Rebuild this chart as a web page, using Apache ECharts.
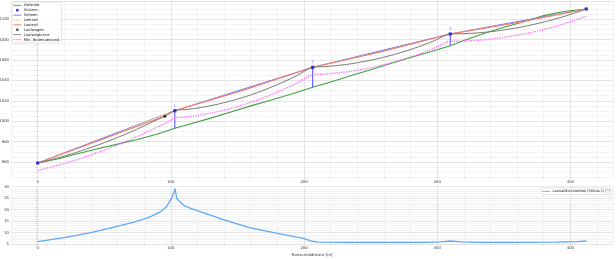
<!DOCTYPE html>
<html><head><meta charset="utf-8">
<script src="https://cdn.jsdelivr.net/npm/echarts@6/dist/echarts.min.js"></script>
<style>html,body{margin:0;padding:0;background:#fff}#c{width:616px;height:259px}</style>
</head><body><div id="c"></div>
<script>
// tick labels
const xTicks = [0, 100, 200, 300, 400];
const profileYTicks = [960, 980, 1000, 1020, 1040, 1060, 1080, 1100];
const angleYTicks = [5, 10, 15, 20, 25, 30];

// supports (Stützen)
const supportX = [0, 103, 206.5, 309.8, 412];
const supportTop = [959, 1010.3, 1052.8, 1085.5, 1110];
const supportGround = [959, 993, 1033.2, 1074, 1110];
const supportLabels = ['', '1', '2', '3', ''];

// terrain (Gelände)
const terrainX = [0,15,30,45,60,75,90,103,115,130,145,160,175,190,206.5,220,235,250,265,280,295,309.8,320,335,350,365,380,395,412];
const terrainY = [959,963,968,973,977.5,982,987.5,993,997.5,1003,1009,1015,1020.5,1026.5,1033.2,1038.5,1044.5,1050.5,1056.5,1062.5,1068,1074,1079,1086,1092,1097.5,1103.5,1107.5,1110];

// empty rope (Leerseil)
const emptyRopeX = [0,51.5,103,154.75,206.5,258.15,309.8,360.9,412];
const emptyRopeY = [959,983.6,1010.3,1030.5,1052.8,1068.1,1085.5,1096.8,1110];

// loaded rope (Lastseil)
const loadedRopeX = [0,95.5,103,154.75,206.5,258.15,309.8,360.9,412];
const loadedRopeY = [959,1004.9,1010.3,1030.5,1052.8,1068.1,1085.5,1096.8,1110];

// load path curve (Lastwegkurve) and min. ground clearance
const loadPathX = [0,10,20,30,40,50,60,70,80,90,95.5,103,113,123,133,145,155,165,175,185,195,206.5,216,226,236,248,258,268,278,288,298,309.8,320,330,340,352,362,372,382,392,402,412];
const loadPathY = [959,962.2,965.8,969.8,974.2,978.9,984.0,989.5,995.4,1001.6,1004.9,1010.3,1011.6,1013.5,1016.0,1019.8,1023.6,1028.0,1033.1,1038.7,1044.9,1052.8,1053.5,1054.7,1056.4,1059.2,1062.1,1065.5,1069.4,1073.9,1079.0,1085.5,1085.8,1086.5,1087.7,1089.8,1092.0,1094.7,1097.8,1101.4,1105.5,1110];
const clearanceY = [951.7,955,958.5,962.5,967,971.6,976.7,982.2,988.1,994.3,997.6,1003,1004.3,1006.2,1008.7,1012.5,1016.3,1020.7,1025.8,1031.4,1037.6,1045.5,1046.2,1047.4,1049.1,1051.9,1054.8,1058.2,1062.1,1066.6,1071.7,1078.2,1078.5,1079.2,1080.4,1082.5,1084.7,1087.4,1090.5,1094.1,1098.2,1102.8];

// carriage / load point
const loadPointX = [95.5];
const loadPointY = [1004.9];

// bend angle at support 1
const angleX = [0,20,40,62,75,84,92,97,100.5,102.5,103.3,104.3,109.3,115,122,140,159,180,199.5,205,210,230,260,290,303,310,318,330,360,390,405,412];
const angleY = [6.0,7.8,10.0,13.0,15.0,16.7,19.0,21.5,24.9,27.8,29.2,25.0,22.0,20.5,19.1,15.5,12.1,9.6,7.5,6.4,5.8,5.7,5.7,5.7,5.9,6.3,5.9,5.7,5.7,5.8,6.0,6.3];

const zip = (xs, ys) => xs.map((x, i) => [x, ys[i]]);
const FONT = 'DejaVu Sans';
const MAJ = '#dadada', MIN = '#eeeeee';
const FS = 3.8;
const C = {terrain: '#3f9f3f', support: '#1010e0', chord: '#6a6aff', empty: '#ffcf70', loaded: '#e87474',
           point: '#111111', path: '#7a7a7a', clear: '#ff66ff', angle: '#5ea8f7', pole: '#4a4aff'};
const LINE_ICON = 'path://M0,0H9V1H0Z';
const DOT_ICON = 'path://M0,0H1.2V1.3H0Z M2.4,0H3.6V1.3H2.4Z M4.8,0H6V1.3H4.8Z M7.2,0H8.4V1.3H7.2Z';
const SQUARE_ICON = 'path://M-0.2,-0.2M1.2,1.2M0,0H1V1H0Z';
const DOT_MARK_ICON = 'path://M-0.2,-0.2M1.2,1.2M0.5,0A0.5,0.5,0,1,1,0.5,1A0.5,0.5,0,1,1,0.5,0Z';

function xAxisDef(gi) {
  return {
    type: 'value', gridIndex: gi, min: -20, max: 432, interval: 20,
    axisLine: {show: false},
    axisTick: {show: true, length: 1.5, lineStyle: {color: '#bbb', width: 0.6}},
    axisLabel: {fontSize: FS, fontFamily: FONT, color: '#333', margin: 2.5,
      formatter: v => xTicks.includes(v) ? String(v) : '', showMinLabel: false, showMaxLabel: false},
    splitLine: {show: true, lineStyle: {color: [MIN, MAJ, MIN, MIN, MIN], width: 0.7}}
  };
}

const chart = echarts.init(document.getElementById('c'), null, {renderer: 'canvas'});
const lineBase = {type: 'line', symbol: 'none', animation: false, silent: true};

const supportPoles = [1, 2, 3].map(i => ({
  ...lineBase, name: 'pole' + i, xAxisIndex: 0, yAxisIndex: 0,
  data: [[supportX[i], supportGround[i]], [supportX[i], supportTop[i]]],
  lineStyle: {color: C.pole, width: 1}, z: 3
}));

const legendItem = (name, icon, color) => ({name, icon, itemStyle: {color: color, borderWidth: 0}});

chart.setOption({
  animation: false,
  textStyle: {fontFamily: FONT},
  grid: [
    {left: 11, width: 602, top: 0.8, height: 176.5, containLabel: false, outerBoundsMode: 'none'},
    {left: 11, width: 602, top: 185.8, height: 58.2, containLabel: false, outerBoundsMode: 'none'}
  ],
  xAxis: [
    xAxisDef(0),
    Object.assign(xAxisDef(1), {name: 'Horizontaldistanz [m]', nameLocation: 'middle', nameGap: 9,
      nameTextStyle: {fontSize: FS, fontFamily: FONT, color: '#333'}})
  ],
  yAxis: [
    {type: 'value', gridIndex: 0, min: 945, max: 1118, interval: 5,
      axisLine: {show: false},
      axisTick: {show: true, length: 1.5, lineStyle: {color: '#bbb', width: 0.6}},
      axisLabel: {fontSize: FS, fontFamily: FONT, color: '#333', margin: 2,
        formatter: v => profileYTicks.includes(v) ? String(v) : '', showMaxLabel: false},
      splitLine: {show: true, lineStyle: {color: [MIN, MIN, MIN, MAJ], width: 0.7}}},
    {type: 'value', gridIndex: 1, min: 5, max: 30.4, interval: 1,
      axisLine: {show: false},
      axisTick: {show: true, length: 1.5, lineStyle: {color: '#bbb', width: 0.6}},
      axisLabel: {fontSize: FS, fontFamily: FONT, color: '#333', margin: 2,
        formatter: v => angleYTicks.includes(v) ? String(v) : '', showMaxLabel: false},
      splitLine: {show: true, lineStyle: {color: [MAJ, MIN, MIN, MIN, MIN], width: 0.7}}}
  ],
  legend: [
    {left: 12, top: 2, orient: 'vertical', itemWidth: 8, itemHeight: 3.6, itemGap: 0.9,
      padding: [1.3, 2, 1.3, 1.3], backgroundColor: 'rgba(255,255,255,0.9)', borderColor: '#d4d4d4', borderWidth: 0.6, borderRadius: 1.5,
      textStyle: {fontSize: 3.7, fontFamily: FONT, color: '#222', padding: [0, 0, 0, -2.5]},
      data: [
        legendItem('Gelände', LINE_ICON, C.terrain),
        legendItem('Stützen', SQUARE_ICON, C.support),
        legendItem('Sehnen', LINE_ICON, C.chord),
        legendItem('Leerseil', LINE_ICON, C.empty),
        legendItem('Lastseil', LINE_ICON, C.loaded),
        legendItem('Laufwagen', DOT_MARK_ICON, C.point),
        legendItem('Lastwegkurve', LINE_ICON, C.path),
        legendItem('Min. Bodenabstand', DOT_ICON, C.clear)
      ]},
    {right: 4, top: 188, orient: 'vertical', itemWidth: 8, itemHeight: 3.6,
      padding: [1.3, 2, 1.3, 1.3], backgroundColor: 'rgba(255,255,255,0.9)', borderColor: '#d4d4d4', borderWidth: 0.6, borderRadius: 1.5,
      textStyle: {fontSize: 3.5, fontFamily: FONT, color: '#222', padding: [0, 0, 0, -2.5]},
      data: [legendItem('Lastseilknickwinkel (Stütze 1) [°]', LINE_ICON, C.angle)]}
  ],
  series: [
    {...lineBase, name: 'Gelände', xAxisIndex: 0, yAxisIndex: 0, data: zip(terrainX, terrainY),
      lineStyle: {color: C.terrain, width: 1.1}, itemStyle: {color: C.terrain}, z: 2},
    ...supportPoles,
    {...lineBase, name: 'Sehnen', xAxisIndex: 0, yAxisIndex: 0, data: zip(supportX, supportTop),
      lineStyle: {color: C.chord, width: 1}, itemStyle: {color: C.chord}, z: 3},
    {...lineBase, name: 'Leerseil', xAxisIndex: 0, yAxisIndex: 0, data: zip(emptyRopeX, emptyRopeY),
      lineStyle: {color: C.empty, width: 1}, itemStyle: {color: C.empty}, z: 4},
    {...lineBase, name: 'Lastseil', xAxisIndex: 0, yAxisIndex: 0, data: zip(loadedRopeX, loadedRopeY),
      lineStyle: {color: C.loaded, width: 1}, itemStyle: {color: C.loaded}, z: 5},
    {...lineBase, name: 'Lastwegkurve', xAxisIndex: 0, yAxisIndex: 0, data: zip(loadPathX, loadPathY), smooth: 0.3,
      lineStyle: {color: C.path, width: 1}, itemStyle: {color: C.path}, z: 6},
    {...lineBase, name: 'Min. Bodenabstand', xAxisIndex: 0, yAxisIndex: 0, data: zip(loadPathX, clearanceY), smooth: 0.3,
      lineStyle: {color: C.clear, width: 1.4, type: [1.2, 1.2]}, itemStyle: {color: C.clear}, z: 6},
    {type: 'scatter', name: 'Laufwagen', xAxisIndex: 0, yAxisIndex: 0, data: zip(loadPointX, loadPointY),
      symbol: 'circle', symbolSize: 3, itemStyle: {color: C.point}, z: 8, animation: false},
    {type: 'scatter', name: 'Stützen', xAxisIndex: 0, yAxisIndex: 0,
      data: supportX.map((x, i) => ({value: [x, supportTop[i]], name: supportLabels[i]})),
      symbol: 'rect', symbolSize: 3.2, itemStyle: {color: C.support}, z: 9, animation: false,
      label: {show: true, position: 'top', distance: 1.5, formatter: p => p.name, fontSize: 4, color: '#5555ff', fontFamily: FONT}},
    {...lineBase, name: 'Lastseilknickwinkel (Stütze 1) [°]', xAxisIndex: 1, yAxisIndex: 1, data: zip(angleX, angleY),
      lineStyle: {color: C.angle, width: 1.3}, itemStyle: {color: C.angle}, z: 3}
  ]
});
</script></body></html>
